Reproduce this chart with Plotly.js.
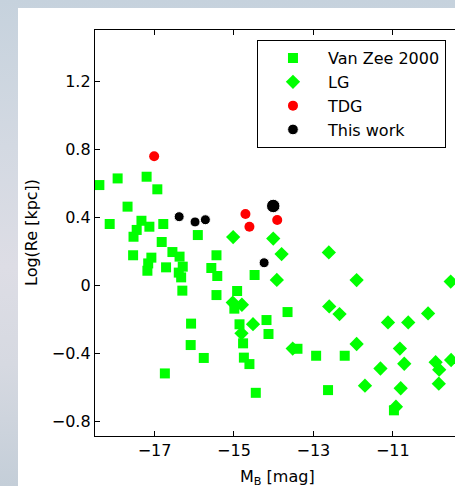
<!DOCTYPE html>
<html>
<head>
<meta charset="utf-8">
<script src="https://cdn.plot.ly/plotly-3.0.1.min.js"></script>
<style>
html, body { margin: 0; padding: 0; }
body {
  width: 455px; height: 486px; overflow: hidden; position: relative;
  background: linear-gradient(to bottom, #c6d2dd 0%, #d3d9e2 30%, #dddde5 55%, #d6d9e1 75%, #c4ced8 100%);
}
#plot { position: absolute; left: 18px; top: 8px; width: 520px; height: 520px; }
</style>
</head>
<body>
<div id="plot"></div>
<script>
// Van Zee 2000 (squares)
const vzX = [-18.39,-17.93,-18.13,-17.68,-17.20,-16.93,-17.33,-17.45,-17.53,-17.13,-16.78,-17.54,-16.82,-17.08,-17.16,-17.18,-16.71,-16.55,-16.37,-16.29,-16.39,-16.33,-16.30,-15.91,-15.44,-15.57,-15.42,-15.44,-16.08,-16.09,-15.76,-16.74,-14.92,-14.99,-14.86,-14.77,-14.75,-14.61,-14.45,-14.18,-14.13,-14.48,-13.65,-13.40,-12.93,-12.21,-12.63,-10.97];
const vzY = [0.588,0.627,0.359,0.461,0.637,0.563,0.378,0.324,0.284,0.343,0.359,0.175,0.253,0.161,0.127,0.084,0.104,0.194,0.167,0.108,0.073,0.045,-0.033,0.294,0.175,0.100,0.053,-0.059,-0.227,-0.353,-0.429,-0.520,-0.035,-0.139,-0.231,-0.343,-0.427,-0.465,-0.634,-0.206,-0.288,0.059,-0.159,-0.375,-0.416,-0.416,-0.618,-0.737];
// Local Group (diamonds)
const lgX = [-15.02,-14.01,-13.80,-13.92,-12.61,-12.60,-12.34,-11.91,-11.91,-11.70,-11.31,-11.12,-10.61,-10.82,-10.71,-10.80,-10.92,-10.11,-9.92,-9.83,-9.84,-9.54,-9.53,-13.52,-14.52,-14.80,-15.03,-14.81];
const lgY = [0.282,0.273,0.182,0.030,0.192,-0.126,-0.171,0.029,-0.347,-0.592,-0.491,-0.220,-0.220,-0.374,-0.463,-0.607,-0.716,-0.167,-0.454,-0.498,-0.580,0.020,-0.441,-0.374,-0.230,-0.116,-0.103,-0.284];
// Tidal dwarf galaxies
const tdgX = [-17.01,-14.71,-14.61,-13.91];
const tdgY = [0.757,0.418,0.343,0.382];
// This work
const twX = [-16.38,-15.98,-15.72,-14.24,-14.01];
const twY = [0.402,0.371,0.384,0.131,0.465];

const seriesNames = ["Van Zee 2000", "LG", "TDG", "This work"];
const xTickVals = [-17, -15, -13, -11, -9];
const xTickText = ["\u221217", "\u221215", "\u221213", "\u221211", "\u22129"];
const yTickVals = [-0.8, -0.4, 0, 0.4, 0.8, 1.2];
const yTickText = ["\u22120.8", "\u22120.4", "0", "0.4", "0.8", "1.2"];
const xTitle = "M<sub>B</sub> [mag]";
const yTitle = "Log(Re [kpc])";

const GREEN = "#00ff00";
const FONT = "DejaVu Sans, Verdana, sans-serif";

const traces = [
  {x: vzX, y: vzY, name: seriesNames[0], type: "scatter", mode: "markers",
   marker: {symbol: "square", size: 10, color: GREEN, opacity: 1}},
  {x: lgX, y: lgY, name: seriesNames[1], type: "scatter", mode: "markers",
   marker: {symbol: "diamond", size: 11, color: GREEN, opacity: 1}},
  {x: tdgX, y: tdgY, name: seriesNames[2], type: "scatter", mode: "markers",
   marker: {symbol: "circle", size: 10, color: "#ff0000", opacity: 1}},
  {x: twX, y: twY, name: seriesNames[3], type: "scatter", mode: "markers",
   marker: {symbol: "circle", size: [10, 10, 10, 10, 13.5], color: "#000000", opacity: 1}}
];

const axisCommon = {
  showgrid: false, zeroline: false, showline: true, linecolor: "#000", linewidth: 1.2,
  mirror: "ticks", ticks: "inside", ticklen: 5, tickwidth: 1, tickcolor: "#000",
  tickfont: {family: FONT, size: 16, color: "#000"}
};

const layout = {
  width: 520, height: 520,
  margin: {l: 77, t: 22, r: 46, b: 92},
  paper_bgcolor: "#ffffff", plot_bgcolor: "#ffffff",
  showlegend: true,
  font: {family: FONT, color: "#000"},
  xaxis: Object.assign({}, axisCommon, {
    range: [-18.5, -8.5], tickmode: "array", tickvals: xTickVals, ticktext: xTickText
  }),
  yaxis: Object.assign({}, axisCommon, {
    range: [-0.888, 1.5], tickmode: "array", tickvals: yTickVals, ticktext: yTickText
  }),
  legend: {
    x: 0.408, y: 0.975, xanchor: "left", yanchor: "top",
    bgcolor: "#ffffff", bordercolor: "#000", borderwidth: 1,
    font: {family: FONT, size: 16, color: "#000"},
    itemwidth: 60, tracegroupgap: 0
  },
  annotations: [
    {text: yTitle, xref: "paper", yref: "paper", x: 0, y: 0.5, xshift: -64,
     xanchor: "center", yanchor: "middle", textangle: -90, showarrow: false,
     font: {family: FONT, size: 16, color: "#000"}},
    {text: xTitle, xref: "paper", yref: "paper", x: 0, y: 0, xshift: 182, yshift: -29,
     xanchor: "center", yanchor: "top", showarrow: false,
     font: {family: FONT, size: 16, color: "#000"}}
  ]
};

Plotly.newPlot("plot", traces, layout, {displayModeBar: false, staticPlot: true});
</script>
</body>
</html>
